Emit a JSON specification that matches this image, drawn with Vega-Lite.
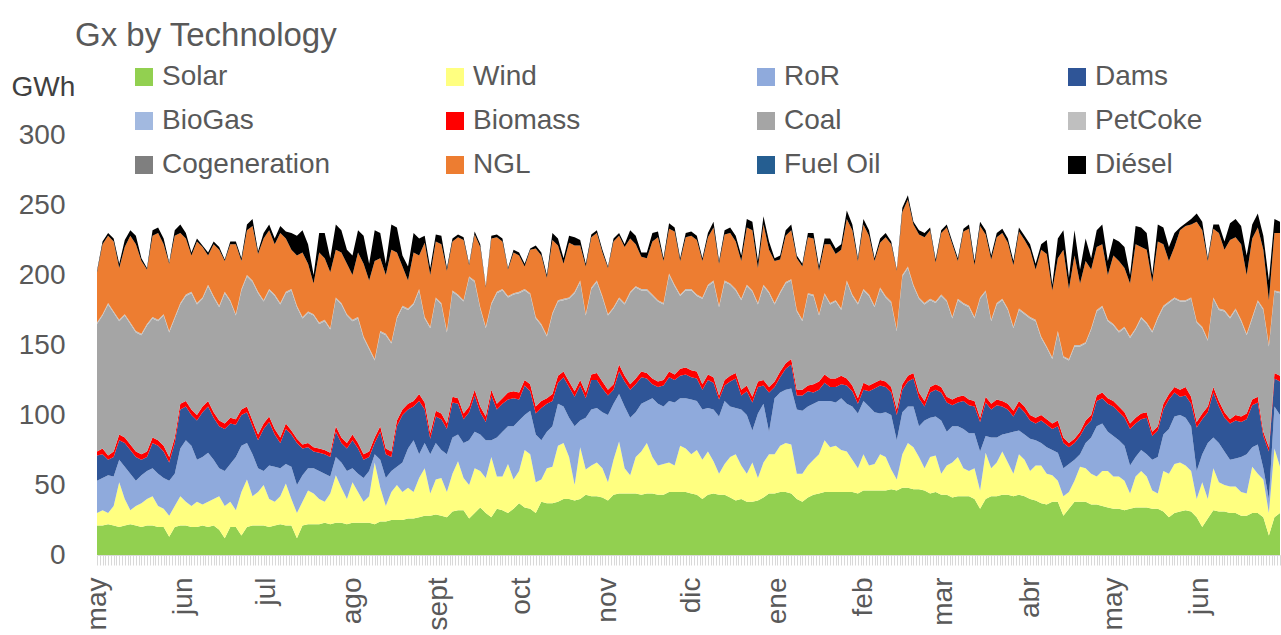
{
"$schema": "https://vega.github.io/schema/vega-lite/v6.json",
"width": 1183, "height": 420,
"autosize": {"type": "none"},
"padding": {"left": 97, "top": 135, "right": 1, "bottom": 80},
"background": "white",
"title": {"text": "Gx by Technology", "anchor": "start", "frame": "group", "font": "Liberation Sans", "fontSize": 33, "fontWeight": "normal", "color": "#595959", "dx": -22, "offset": 10},
"config": {"view": {"stroke": null}, "font": "Liberation Sans"},
"datasets": {"tech": [
{"k":"s","name":"Solar","i":1},{"k":"w","name":"Wind","i":2},{"k":"r","name":"RoR","i":3},{"k":"m","name":"Dams","i":4},{"k":"b","name":"Biomass","i":6},{"k":"c","name":"Coal","i":7},{"k":"p","name":"PetCoke","i":8},{"k":"n","name":"NGL","i":10},{"k":"x","name":"Diésel","i":12}
]},
"data": {"values": [
{"d":"2019-05-01","s":21,"w":9,"r":23,"m":18,"b":3,"c":91,"p":1,"n":36,"x":1},
{"d":"2019-05-03","s":21,"w":11,"r":23,"m":17,"b":4,"c":95,"p":1,"n":50,"x":2},
{"d":"2019-05-05","s":22,"w":8,"r":27,"m":11,"b":3,"c":108,"p":1,"n":48,"x":2},
{"d":"2019-05-07","s":21,"w":14,"r":21,"m":14,"b":4,"c":99,"p":1,"n":50,"x":2},
{"d":"2019-05-09","s":20,"w":32,"r":16,"m":14,"b":4,"c":81,"p":1,"n":37,"x":3},
{"d":"2019-05-11","s":21,"w":19,"r":23,"m":17,"b":4,"c":87,"p":1,"n":48,"x":5},
{"d":"2019-05-13","s":22,"w":10,"r":26,"m":17,"b":4,"c":86,"p":1,"n":62,"x":4},
{"d":"2019-05-15","s":21,"w":14,"r":18,"m":17,"b":4,"c":85,"p":1,"n":62,"x":6},
{"d":"2019-05-17","s":20,"w":17,"r":20,"m":11,"b":4,"c":85,"p":1,"n":52,"x":2},
{"d":"2019-05-19","s":21,"w":19,"r":20,"m":10,"b":4,"c":90,"p":1,"n":39,"x":1},
{"d":"2019-05-21","s":21,"w":21,"r":20,"m":18,"b":4,"c":85,"p":1,"n":58,"x":4},
{"d":"2019-05-23","s":20,"w":15,"r":23,"m":20,"b":4,"c":85,"p":1,"n":62,"x":4},
{"d":"2019-05-25","s":20,"w":13,"r":22,"m":19,"b":4,"c":93,"p":1,"n":50,"x":4},
{"d":"2019-05-27","s":13,"w":15,"r":25,"m":13,"b":4,"c":89,"p":1,"n":48,"x":1},
{"d":"2019-05-29","s":20,"w":15,"r":23,"m":22,"b":4,"c":85,"p":1,"n":58,"x":4},
{"d":"2019-05-31","s":21,"w":21,"r":34,"m":28,"b":4,"c":71,"p":1,"n":50,"x":6},
{"d":"2019-06-02","s":21,"w":17,"r":44,"m":24,"b":4,"c":75,"p":1,"n":40,"x":4},
{"d":"2019-06-04","s":20,"w":15,"r":43,"m":22,"b":4,"c":83,"p":1,"n":26,"x":2},
{"d":"2019-06-06","s":20,"w":18,"r":30,"m":28,"b":4,"c":79,"p":1,"n":44,"x":2},
{"d":"2019-06-08","s":21,"w":15,"r":34,"m":32,"b":4,"c":77,"p":1,"n":36,"x":1},
{"d":"2019-06-10","s":20,"w":18,"r":35,"m":33,"b":4,"c":82,"p":1,"n":21,"x":2},
{"d":"2019-06-12","s":21,"w":19,"r":28,"m":30,"b":4,"c":82,"p":1,"n":37,"x":2},
{"d":"2019-06-14","s":18,"w":24,"r":20,"m":30,"b":4,"c":81,"p":1,"n":40,"x":2},
{"d":"2019-06-16","s":12,"w":23,"r":25,"m":30,"b":4,"c":93,"p":1,"n":22,"x":1},
{"d":"2019-06-18","s":20,"w":18,"r":27,"m":29,"b":4,"c":83,"p":1,"n":40,"x":2},
{"d":"2019-06-20","s":20,"w":12,"r":38,"m":23,"b":4,"c":74,"p":1,"n":50,"x":2},
{"d":"2019-06-22","s":14,"w":31,"r":33,"m":22,"b":4,"c":85,"p":1,"n":20,"x":2},
{"d":"2019-06-24","s":20,"w":34,"r":26,"m":22,"b":4,"c":93,"p":1,"n":32,"x":4},
{"d":"2019-06-26","s":21,"w":21,"r":30,"m":20,"b":4,"c":99,"p":1,"n":39,"x":5},
{"d":"2019-06-28","s":21,"w":24,"r":17,"m":20,"b":4,"c":101,"p":1,"n":27,"x":2},
{"d":"2019-06-30","s":21,"w":29,"r":10,"m":30,"b":4,"c":87,"p":1,"n":44,"x":4},
{"d":"2019-07-02","s":20,"w":20,"r":24,"m":31,"b":4,"c":90,"p":1,"n":42,"x":4},
{"d":"2019-07-04","s":21,"w":17,"r":25,"m":23,"b":4,"c":95,"p":1,"n":36,"x":4},
{"d":"2019-07-06","s":22,"w":20,"r":20,"m":18,"b":4,"c":95,"p":1,"n":50,"x":5},
{"d":"2019-07-08","s":21,"w":30,"r":14,"m":25,"b":4,"c":93,"p":1,"n":38,"x":5},
{"d":"2019-07-10","s":21,"w":19,"r":23,"m":23,"b":3,"c":100,"p":1,"n":28,"x":12},
{"d":"2019-07-12","s":12,"w":18,"r":20,"m":30,"b":3,"c":94,"p":1,"n":36,"x":14},
{"d":"2019-07-14","s":21,"w":17,"r":19,"m":19,"b":3,"c":90,"p":1,"n":46,"x":16},
{"d":"2019-07-16","s":22,"w":24,"r":16,"m":15,"b":3,"c":93,"p":1,"n":34,"x":14},
{"d":"2019-07-18","s":22,"w":22,"r":18,"m":12,"b":3,"c":94,"p":1,"n":22,"x":6},
{"d":"2019-07-20","s":22,"w":18,"r":20,"m":13,"b":3,"c":89,"p":1,"n":50,"x":14},
{"d":"2019-07-22","s":23,"w":15,"r":20,"m":14,"b":3,"c":92,"p":1,"n":44,"x":18},
{"d":"2019-07-24","s":22,"w":22,"r":12,"m":14,"b":3,"c":88,"p":1,"n":40,"x":10},
{"d":"2019-07-26","s":23,"w":34,"r":13,"m":18,"b":4,"c":91,"p":1,"n":34,"x":18},
{"d":"2019-07-28","s":23,"w":25,"r":18,"m":14,"b":4,"c":95,"p":1,"n":36,"x":16},
{"d":"2019-07-30","s":22,"w":18,"r":20,"m":16,"b":4,"c":91,"p":1,"n":36,"x":10},
{"d":"2019-08-01","s":23,"w":29,"r":10,"m":20,"b":4,"c":81,"p":1,"n":32,"x":14},
{"d":"2019-08-03","s":23,"w":22,"r":13,"m":18,"b":4,"c":89,"p":1,"n":46,"x":16},
{"d":"2019-08-05","s":23,"w":15,"r":17,"m":13,"b":4,"c":83,"p":1,"n":52,"x":20},
{"d":"2019-08-07","s":23,"w":19,"r":18,"m":10,"b":4,"c":73,"p":1,"n":48,"x":12},
{"d":"2019-08-09","s":22,"w":44,"r":6,"m":8,"b":4,"c":55,"p":1,"n":70,"x":22},
{"d":"2019-08-11","s":24,"w":24,"r":20,"m":20,"b":4,"c":67,"p":1,"n":52,"x":18},
{"d":"2019-08-13","s":24,"w":11,"r":20,"m":17,"b":4,"c":81,"p":1,"n":42,"x":8},
{"d":"2019-08-15","s":25,"w":20,"r":15,"m":10,"b":4,"c":77,"p":1,"n":66,"x":18},
{"d":"2019-08-17","s":25,"w":25,"r":13,"m":29,"b":4,"c":73,"p":1,"n":46,"x":18},
{"d":"2019-08-19","s":25,"w":20,"r":21,"m":34,"b":4,"c":73,"p":1,"n":28,"x":8},
{"d":"2019-08-21","s":26,"w":22,"r":28,"m":28,"b":4,"c":67,"p":1,"n":20,"x":10},
{"d":"2019-08-23","s":26,"w":19,"r":37,"m":24,"b":4,"c":69,"p":1,"n":36,"x":14},
{"d":"2019-08-25","s":27,"w":28,"r":17,"m":38,"b":5,"c":74,"p":1,"n":24,"x":12},
{"d":"2019-08-27","s":28,"w":34,"r":18,"m":24,"b":5,"c":60,"p":1,"n":53,"x":5},
{"d":"2019-08-29","s":28,"w":16,"r":28,"m":11,"b":4,"c":75,"p":1,"n":37,"x":5},
{"d":"2019-08-31","s":29,"w":25,"r":26,"m":19,"b":4,"c":80,"p":1,"n":40,"x":5},
{"d":"2019-09-02","s":28,"w":27,"r":20,"m":22,"b":4,"c":78,"p":1,"n":42,"x":6},
{"d":"2019-09-04","s":27,"w":18,"r":27,"m":18,"b":4,"c":65,"p":1,"n":43,"x":2},
{"d":"2019-09-06","s":31,"w":27,"r":26,"m":25,"b":4,"c":75,"p":1,"n":35,"x":2},
{"d":"2019-09-08","s":32,"w":35,"r":19,"m":22,"b":4,"c":73,"p":1,"n":41,"x":2},
{"d":"2019-09-10","s":32,"w":23,"r":25,"m":17,"b":4,"c":80,"p":1,"n":43,"x":2},
{"d":"2019-09-12","s":26,"w":24,"r":32,"m":20,"b":4,"c":92,"p":1,"n":8,"x":1},
{"d":"2019-09-14","s":30,"w":32,"r":26,"m":26,"b":4,"c":77,"p":1,"n":33,"x":2},
{"d":"2019-09-16","s":34,"w":26,"r":26,"m":16,"b":4,"c":70,"p":1,"n":43,"x":2},
{"d":"2019-09-18","s":30,"w":25,"r":27,"m":13,"b":4,"c":63,"p":1,"n":28,"x":1},
{"d":"2019-09-20","s":27,"w":43,"r":12,"m":32,"b":4,"c":61,"p":1,"n":46,"x":2},
{"d":"2019-09-22","s":33,"w":23,"r":28,"m":20,"b":4,"c":79,"p":1,"n":39,"x":2},
{"d":"2019-09-24","s":32,"w":24,"r":32,"m":20,"b":4,"c":77,"p":1,"n":34,"x":2},
{"d":"2019-09-26","s":30,"w":35,"r":27,"m":19,"b":5,"c":68,"p":1,"n":19,"x":1},
{"d":"2019-09-28","s":33,"w":21,"r":38,"m":20,"b":5,"c":69,"p":1,"n":29,"x":2},
{"d":"2019-09-30","s":37,"w":23,"r":36,"m":15,"b":5,"c":71,"p":1,"n":26,"x":2},
{"d":"2019-10-02","s":34,"w":41,"r":25,"m":21,"b":4,"c":64,"p":1,"n":16,"x":2},
{"d":"2019-10-04","s":33,"w":39,"r":31,"m":14,"b":5,"c":64,"p":1,"n":31,"x":1},
{"d":"2019-10-06","s":30,"w":22,"r":34,"m":15,"b":5,"c":63,"p":1,"n":49,"x":2},
{"d":"2019-10-08","s":38,"w":16,"r":28,"m":23,"b":5,"c":54,"p":1,"n":49,"x":2},
{"d":"2019-10-10","s":37,"w":25,"r":26,"m":20,"b":4,"c":44,"p":1,"n":41,"x":2},
{"d":"2019-10-12","s":37,"w":26,"r":29,"m":18,"b":5,"c":57,"p":1,"n":52,"x":5},
{"d":"2019-10-14","s":38,"w":40,"r":30,"m":15,"b":5,"c":53,"p":1,"n":39,"x":5},
{"d":"2019-10-16","s":40,"w":40,"r":26,"m":21,"b":4,"c":51,"p":1,"n":25,"x":4},
{"d":"2019-10-18","s":40,"w":30,"r":28,"m":22,"b":4,"c":59,"p":1,"n":39,"x":5},
{"d":"2019-10-20","s":39,"w":11,"r":42,"m":21,"b":4,"c":70,"p":1,"n":33,"x":6},
{"d":"2019-10-22","s":40,"w":37,"r":19,"m":25,"b":4,"c":70,"p":1,"n":25,"x":4},
{"d":"2019-10-24","s":43,"w":18,"r":37,"m":14,"b":4,"c":55,"p":1,"n":34,"x":2},
{"d":"2019-10-26","s":42,"w":22,"r":40,"m":21,"b":4,"c":61,"p":1,"n":36,"x":2},
{"d":"2019-10-28","s":42,"w":24,"r":39,"m":20,"b":5,"c":65,"p":1,"n":34,"x":2},
{"d":"2019-10-30","s":41,"w":21,"r":40,"m":17,"b":5,"c":60,"p":1,"n":31,"x":2},
{"d":"2019-11-01","s":39,"w":13,"r":48,"m":14,"b":4,"c":53,"p":1,"n":33,"x":1},
{"d":"2019-11-03","s":43,"w":25,"r":40,"m":10,"b":4,"c":54,"p":1,"n":47,"x":2},
{"d":"2019-11-05","s":44,"w":37,"r":34,"m":16,"b":5,"c":47,"p":1,"n":44,"x":2},
{"d":"2019-11-07","s":44,"w":18,"r":44,"m":18,"b":4,"c":51,"p":1,"n":40,"x":2},
{"d":"2019-11-09","s":44,"w":13,"r":41,"m":20,"b":4,"c":65,"p":1,"n":38,"x":6},
{"d":"2019-11-11","s":44,"w":26,"r":32,"m":20,"b":4,"c":65,"p":1,"n":30,"x":6},
{"d":"2019-11-13","s":43,"w":31,"r":34,"m":19,"b":4,"c":58,"p":1,"n":23,"x":3},
{"d":"2019-11-15","s":44,"w":36,"r":30,"m":16,"b":4,"c":59,"p":1,"n":22,"x":4},
{"d":"2019-11-17","s":44,"w":26,"r":42,"m":10,"b":4,"c":59,"p":1,"n":38,"x":6},
{"d":"2019-11-19","s":43,"w":21,"r":44,"m":12,"b":4,"c":57,"p":1,"n":45,"x":4},
{"d":"2019-11-21","s":43,"w":22,"r":41,"m":15,"b":4,"c":54,"p":1,"n":30,"x":2},
{"d":"2019-11-23","s":45,"w":21,"r":44,"m":17,"b":4,"c":69,"p":1,"n":32,"x":4},
{"d":"2019-11-25","s":45,"w":19,"r":45,"m":16,"b":4,"c":63,"p":1,"n":38,"x":3},
{"d":"2019-11-27","s":45,"w":33,"r":34,"m":16,"b":5,"c":52,"p":1,"n":24,"x":2},
{"d":"2019-11-29","s":45,"w":31,"r":36,"m":17,"b":5,"c":55,"p":1,"n":37,"x":3},
{"d":"2019-12-01","s":44,"w":28,"r":39,"m":16,"b":5,"c":57,"p":1,"n":38,"x":3},
{"d":"2019-12-03","s":43,"w":32,"r":35,"m":16,"b":5,"c":54,"p":1,"n":39,"x":3},
{"d":"2019-12-05","s":40,"w":28,"r":36,"m":14,"b":4,"c":61,"p":1,"n":26,"x":2},
{"d":"2019-12-07","s":43,"w":31,"r":31,"m":20,"b":4,"c":63,"p":1,"n":34,"x":3},
{"d":"2019-12-09","s":44,"w":23,"r":37,"m":19,"b":4,"c":68,"p":1,"n":38,"x":4},
{"d":"2019-12-11","s":43,"w":15,"r":41,"m":12,"b":3,"c":63,"p":1,"n":30,"x":2},
{"d":"2019-12-13","s":43,"w":22,"r":45,"m":11,"b":4,"c":70,"p":1,"n":33,"x":3},
{"d":"2019-12-15","s":41,"w":29,"r":36,"m":18,"b":4,"c":65,"p":1,"n":36,"x":4},
{"d":"2019-12-17","s":39,"w":33,"r":33,"m":21,"b":4,"c":59,"p":1,"n":34,"x":4},
{"d":"2019-12-19","s":40,"w":24,"r":40,"m":10,"b":4,"c":64,"p":1,"n":27,"x":4},
{"d":"2019-12-21","s":38,"w":20,"r":42,"m":17,"b":4,"c":71,"p":1,"n":41,"x":6},
{"d":"2019-12-23","s":38,"w":28,"r":23,"m":20,"b":4,"c":75,"p":1,"n":43,"x":6},
{"d":"2019-12-25","s":39,"w":16,"r":46,"m":19,"b":4,"c":55,"p":1,"n":25,"x":5},
{"d":"2019-12-27","s":41,"w":25,"r":42,"m":13,"b":4,"c":67,"p":1,"n":43,"x":6},
{"d":"2019-12-29","s":44,"w":28,"r":16,"m":28,"b":4,"c":67,"p":1,"n":30,"x":6},
{"d":"2019-12-31","s":44,"w":28,"r":40,"m":8,"b":4,"c":55,"p":1,"n":30,"x":2},
{"d":"2020-01-02","s":45,"w":33,"r":38,"m":11,"b":4,"c":56,"p":1,"n":23,"x":3},
{"d":"2020-01-04","s":45,"w":35,"r":38,"m":15,"b":4,"c":57,"p":1,"n":33,"x":4},
{"d":"2020-01-06","s":44,"w":35,"r":40,"m":17,"b":4,"c":56,"p":1,"n":35,"x":4},
{"d":"2020-01-08","s":40,"w":18,"r":46,"m":10,"b":4,"c":56,"p":1,"n":37,"x":2},
{"d":"2020-01-10","s":38,"w":20,"r":45,"m":11,"b":4,"c":49,"p":1,"n":38,"x":2},
{"d":"2020-01-12","s":41,"w":23,"r":42,"m":11,"b":4,"c":65,"p":1,"n":40,"x":3},
{"d":"2020-01-14","s":43,"w":25,"r":40,"m":8,"b":6,"c":63,"p":1,"n":40,"x":4},
{"d":"2020-01-16","s":44,"w":28,"r":38,"m":8,"b":6,"c":47,"p":1,"n":31,"x":3},
{"d":"2020-01-18","s":45,"w":37,"r":28,"m":13,"b":6,"c":57,"p":1,"n":35,"x":4},
{"d":"2020-01-20","s":45,"w":32,"r":33,"m":10,"b":6,"c":53,"p":1,"n":42,"x":4},
{"d":"2020-01-22","s":45,"w":33,"r":31,"m":11,"b":6,"c":55,"p":1,"n":33,"x":4},
{"d":"2020-01-24","s":45,"w":30,"r":37,"m":10,"b":6,"c":47,"p":1,"n":42,"x":4},
{"d":"2020-01-26","s":45,"w":29,"r":34,"m":13,"b":5,"c":69,"p":1,"n":44,"x":6},
{"d":"2020-01-28","s":45,"w":23,"r":38,"m":11,"b":4,"c":64,"p":1,"n":46,"x":4},
{"d":"2020-01-30","s":44,"w":18,"r":39,"m":7,"b":4,"c":67,"p":1,"n":30,"x":2},
{"d":"2020-02-01","s":46,"w":26,"r":38,"m":8,"b":5,"c":66,"p":1,"n":46,"x":4},
{"d":"2020-02-03","s":46,"w":18,"r":42,"m":11,"b":4,"c":64,"p":1,"n":42,"x":4},
{"d":"2020-02-05","s":46,"w":19,"r":37,"m":17,"b":4,"c":54,"p":1,"n":32,"x":2},
{"d":"2020-02-07","s":46,"w":26,"r":29,"m":20,"b":4,"c":65,"p":1,"n":32,"x":3},
{"d":"2020-02-09","s":46,"w":24,"r":32,"m":18,"b":4,"c":60,"p":1,"n":42,"x":3},
{"d":"2020-02-11","s":47,"w":14,"r":39,"m":16,"b":4,"c":60,"p":1,"n":41,"x":2},
{"d":"2020-02-13","s":46,"w":8,"r":28,"m":18,"b":4,"c":56,"p":1,"n":42,"x":1},
{"d":"2020-02-15","s":48,"w":24,"r":30,"m":16,"b":4,"c":77,"p":1,"n":45,"x":3},
{"d":"2020-02-17","s":48,"w":32,"r":26,"m":18,"b":4,"c":77,"p":1,"n":48,"x":3},
{"d":"2020-02-19","s":47,"w":30,"r":29,"m":20,"b":4,"c":62,"p":1,"n":43,"x":2},
{"d":"2020-02-21","s":47,"w":23,"r":22,"m":20,"b":4,"c":67,"p":1,"n":45,"x":3},
{"d":"2020-02-23","s":46,"w":16,"r":34,"m":10,"b":4,"c":69,"p":1,"n":47,"x":3},
{"d":"2020-02-25","s":44,"w":26,"r":28,"m":18,"b":4,"c":62,"p":1,"n":49,"x":2},
{"d":"2020-02-27","s":45,"w":26,"r":28,"m":19,"b":4,"c":58,"p":1,"n":28,"x":2},
{"d":"2020-02-29","s":43,"w":15,"r":38,"m":20,"b":4,"c":65,"p":1,"n":44,"x":2},
{"d":"2020-03-02","s":43,"w":21,"r":24,"m":21,"b":4,"c":68,"p":1,"n":52,"x":2},
{"d":"2020-03-04","s":41,"w":25,"r":26,"m":15,"b":4,"c":58,"p":1,"n":52,"x":2},
{"d":"2020-03-06","s":42,"w":28,"r":22,"m":17,"b":4,"c":69,"p":1,"n":27,"x":2},
{"d":"2020-03-08","s":42,"w":20,"r":28,"m":20,"b":4,"c":65,"p":1,"n":51,"x":2},
{"d":"2020-03-10","s":42,"w":18,"r":27,"m":20,"b":4,"c":66,"p":1,"n":55,"x":3},
{"d":"2020-03-12","s":40,"w":22,"r":25,"m":19,"b":4,"c":59,"p":1,"n":37,"x":3},
{"d":"2020-03-14","s":33,"w":13,"r":28,"m":21,"b":3,"c":85,"p":1,"n":51,"x":3},
{"d":"2020-03-16","s":40,"w":33,"r":12,"m":24,"b":4,"c":75,"p":1,"n":40,"x":3},
{"d":"2020-03-18","s":42,"w":20,"r":22,"m":20,"b":4,"c":59,"p":1,"n":43,"x":3},
{"d":"2020-03-20","s":42,"w":24,"r":18,"m":23,"b":4,"c":68,"p":1,"n":47,"x":3},
{"d":"2020-03-22","s":43,"w":31,"r":12,"m":20,"b":4,"c":72,"p":1,"n":47,"x":3},
{"d":"2020-03-24","s":43,"w":23,"r":21,"m":17,"b":4,"c":67,"p":1,"n":47,"x":3},
{"d":"2020-03-26","s":42,"w":16,"r":30,"m":11,"b":4,"c":59,"p":1,"n":44,"x":3},
{"d":"2020-03-28","s":43,"w":29,"r":17,"m":17,"b":4,"c":65,"p":1,"n":55,"x":3},
{"d":"2020-03-30","s":42,"w":26,"r":18,"m":16,"b":4,"c":66,"p":1,"n":52,"x":3},
{"d":"2020-04-01","s":40,"w":20,"r":23,"m":13,"b":4,"c":69,"p":1,"n":48,"x":4},
{"d":"2020-04-03","s":39,"w":25,"r":18,"m":12,"b":4,"c":69,"p":1,"n":36,"x":4},
{"d":"2020-04-05","s":37,"w":27,"r":16,"m":16,"b":4,"c":55,"p":1,"n":62,"x":4},
{"d":"2020-04-07","s":36,"w":22,"r":19,"m":16,"b":4,"c":51,"p":1,"n":66,"x":10},
{"d":"2020-04-09","s":38,"w":19,"r":18,"m":15,"b":4,"c":46,"p":1,"n":48,"x":4},
{"d":"2020-04-11","s":38,"w":15,"r":20,"m":19,"b":4,"c":63,"p":1,"n":52,"x":14},
{"d":"2020-04-13","s":28,"w":14,"r":20,"m":18,"b":4,"c":57,"p":1,"n":76,"x":14},
{"d":"2020-04-15","s":33,"w":12,"r":20,"m":12,"b":3,"c":59,"p":1,"n":50,"x":8},
{"d":"2020-04-17","s":38,"w":15,"r":15,"m":12,"b":3,"c":66,"p":1,"n":64,"x":18},
{"d":"2020-04-19","s":38,"w":25,"r":9,"m":13,"b":3,"c":61,"p":1,"n":44,"x":10},
{"d":"2020-04-21","s":38,"w":24,"r":18,"m":12,"b":4,"c":55,"p":1,"n":58,"x":16},
{"d":"2020-04-23","s":36,"w":22,"r":26,"m":12,"b":4,"c":61,"p":1,"n":42,"x":8},
{"d":"2020-04-25","s":36,"w":20,"r":36,"m":18,"b":4,"c":60,"p":1,"n":45,"x":12},
{"d":"2020-04-27","s":35,"w":25,"r":34,"m":18,"b":4,"c":61,"p":1,"n":44,"x":14},
{"d":"2020-04-29","s":34,"w":26,"r":28,"m":20,"b":4,"c":55,"p":1,"n":32,"x":10},
{"d":"2020-05-01","s":33,"w":23,"r":29,"m":21,"b":4,"c":54,"p":1,"n":49,"x":12},
{"d":"2020-05-03","s":33,"w":23,"r":26,"m":20,"b":4,"c":53,"p":1,"n":50,"x":14},
{"d":"2020-05-05","s":32,"w":21,"r":25,"m":20,"b":4,"c":60,"p":1,"n":42,"x":15},
{"d":"2020-05-07","s":33,"w":11,"r":20,"m":26,"b":4,"c":61,"p":1,"n":38,"x":6},
{"d":"2020-05-09","s":34,"w":22,"r":14,"m":24,"b":4,"c":63,"p":1,"n":60,"x":13},
{"d":"2020-05-11","s":34,"w":26,"r":15,"m":22,"b":4,"c":68,"p":1,"n":50,"x":14},
{"d":"2020-05-13","s":34,"w":22,"r":16,"m":26,"b":4,"c":63,"p":1,"n":52,"x":12},
{"d":"2020-05-15","s":33,"w":13,"r":22,"m":17,"b":3,"c":71,"p":1,"n":35,"x":5},
{"d":"2020-05-17","s":33,"w":11,"r":26,"m":19,"b":3,"c":77,"p":1,"n":54,"x":12},
{"d":"2020-05-19","s":31,"w":29,"r":26,"m":18,"b":4,"c":69,"p":1,"n":44,"x":12},
{"d":"2020-05-21","s":27,"w":31,"r":32,"m":21,"b":4,"c":65,"p":1,"n":29,"x":10},
{"d":"2020-05-23","s":30,"w":35,"r":34,"m":17,"b":4,"c":63,"p":1,"n":36,"x":10},
{"d":"2020-05-25","s":31,"w":35,"r":34,"m":13,"b":5,"c":63,"p":1,"n":50,"x":2},
{"d":"2020-05-27","s":32,"w":32,"r":34,"m":16,"b":6,"c":61,"p":1,"n":53,"x":2},
{"d":"2020-05-29","s":31,"w":29,"r":32,"m":16,"b":5,"c":70,"p":1,"n":52,"x":4},
{"d":"2020-05-31","s":27,"w":13,"r":20,"m":31,"b":4,"c":71,"p":1,"n":71,"x":6},
{"d":"2020-06-02","s":20,"w":32,"r":20,"m":25,"b":4,"c":61,"p":1,"n":69,"x":6},
{"d":"2020-06-04","s":26,"w":14,"r":40,"m":22,"b":4,"c":47,"p":1,"n":56,"x":2},
{"d":"2020-06-06","s":32,"w":30,"r":22,"m":32,"b":4,"c":63,"p":1,"n":49,"x":3},
{"d":"2020-06-08","s":31,"w":21,"r":28,"m":26,"b":4,"c":65,"p":1,"n":54,"x":6},
{"d":"2020-06-10","s":31,"w":19,"r":24,"m":24,"b":4,"c":72,"p":1,"n":43,"x":6},
{"d":"2020-06-12","s":30,"w":19,"r":19,"m":26,"b":3,"c":72,"p":1,"n":55,"x":12},
{"d":"2020-06-14","s":30,"w":19,"r":20,"m":27,"b":4,"c":75,"p":1,"n":51,"x":13},
{"d":"2020-06-16","s":28,"w":17,"r":25,"m":25,"b":4,"c":68,"p":1,"n":54,"x":13},
{"d":"2020-06-18","s":28,"w":16,"r":28,"m":25,"b":4,"c":56,"p":1,"n":42,"x":14},
{"d":"2020-06-20","s":30,"w":33,"r":14,"m":30,"b":4,"c":58,"p":1,"n":56,"x":10},
{"d":"2020-06-22","s":30,"w":28,"r":21,"m":30,"b":4,"c":68,"p":1,"n":52,"x":10},
{"d":"2020-06-24","s":27,"w":27,"r":8,"m":23,"b":3,"c":87,"p":1,"n":42,"x":10},
{"d":"2020-06-26","s":14,"w":16,"r":10,"m":34,"b":3,"c":72,"p":1,"n":32,"x":14},
{"d":"2020-06-28","s":27,"w":49,"r":30,"m":20,"b":4,"c":58,"p":1,"n":41,"x":10},
{"d":"2020-06-30","s":30,"w":33,"r":37,"m":24,"b":4,"c":59,"p":1,"n":42,"x":8}
]},
"transform": [
{"fold": ["s","w","r","m","b","c","p","n","x"], "as": ["k","v"]},
{"lookup": "k", "from": {"data": {"name": "tech"}, "key": "k", "fields": ["name","i"]}}
],
"mark": {"type": "area", "interpolate": "linear"},
"encoding": {
"x": {"field": "d", "type": "temporal",
 "scale": {"type": "utc", "domain": [{"year":2019,"month":5,"date":1,"utc":true},{"year":2020,"month":6,"date":30,"utc":true}]},
 "axis": {"title": null, "tickCount": {"interval": "day", "step": 1}, "tickColor": "#D9D9D9", "tickSize": 10, "tickWidth": 1, "domainColor": "#D9D9D9", "grid": false,
  "labelExpr": "utcdate(datum.value) == 1 ? ['ene','feb','mar','abr','may','jun','jul','ago','sept','oct','nov','dic'][utcmonth(datum.value)] : ''",
  "labelAngle": -90, "labelAlign": "right", "labelBaseline": "middle", "labelPadding": 12, "labelFontSize": 28, "labelColor": "#595959", "labelFont": "Liberation Sans", "labelOverlap": false, "labelFlush": false, "labelBound": false}},
"y": {"field": "v", "type": "quantitative", "stack": "zero",
 "scale": {"domain": [0,300], "nice": false},
 "axis": {"title": "GWh", "titleAngle": 0, "titleX": -86, "titleY": -48, "titleAlign": "left", "titleBaseline": "middle", "titleFontSize": 28, "titleFontWeight": "normal", "titleColor": "#404040", "titleFont": "Liberation Sans",
  "values": [0,50,100,150,200,250,300], "labelFontSize": 28, "labelColor": "#595959", "labelFont": "Liberation Sans", "labelPadding": 32, "ticks": false, "tickSize": 0, "domain": false, "grid": false}},
"color": {"field": "name", "type": "nominal",
 "scale": {"domain": ["Solar","Wind","RoR","Dams","BioGas","Biomass","Coal","PetCoke","Cogeneration","NGL","Fuel Oil","Diésel"],
  "range": ["#92D050","#FFFF80","#8FAADC","#2F5597","#A2B9E0","#FF0000","#A5A5A5","#BFBFBF","#7F7F7F","#ED7D31","#255E91","#000000"]},
 "legend": {"orient": "none", "legendX": 33, "legendY": -72, "direction": "horizontal", "columns": 4, "gridAlign": "all", "columnPadding": 110, "rowPadding": 16, "padding": 0,
  "symbolType": "square", "symbolSize": 324, "symbolStrokeWidth": 0, "labelFontSize": 28, "labelFont": "Liberation Sans", "labelColor": "#595959", "labelOffset": 4, "labelLimit": 400, "title": null}},
"order": {"field": "i", "type": "quantitative", "sort": "ascending"}
}
}
